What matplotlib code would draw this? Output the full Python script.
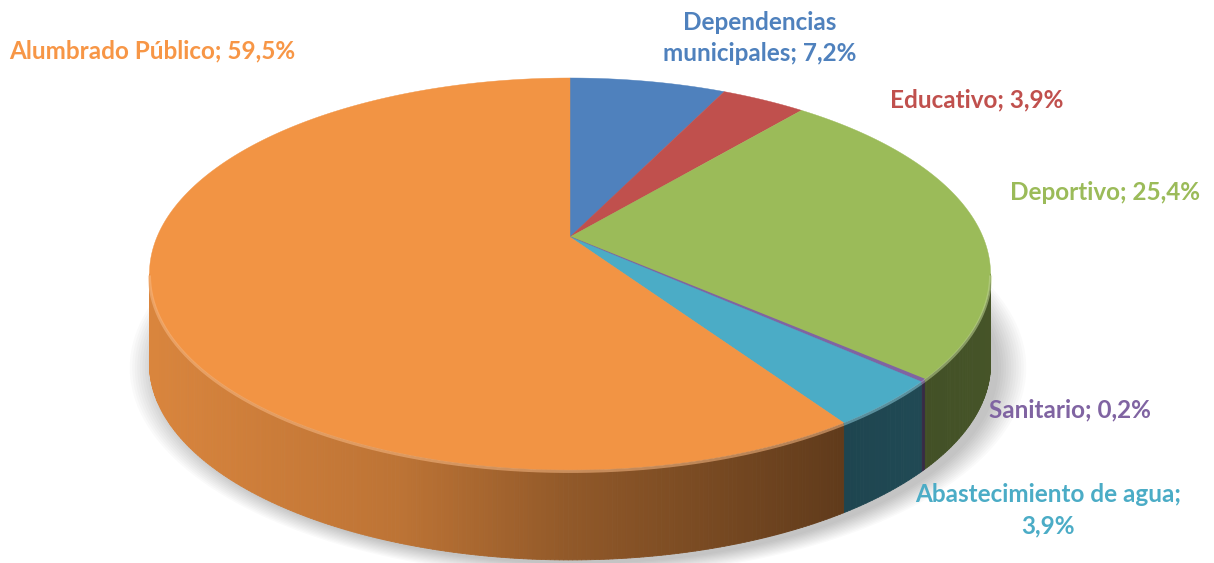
import numpy as np
import matplotlib.pyplot as plt
from matplotlib.collections import PolyCollection
from matplotlib.patches import Polygon
from matplotlib.colors import to_rgb

# Datos del gráfico (porcentaje del consumo por uso)
categories = ['Dependencias municipales', 'Educativo', 'Deportivo',
              'Sanitario', 'Abastecimiento de agua', 'Alumbrado Público']
values = [7.2, 3.9, 25.4, 0.2, 3.9, 59.5]
colors = ['#4F81BD', '#C0504D', '#9BBB59', '#8064A2', '#4BACC6', '#F29444']
label_colors = ['#4F81BD', '#C0504D', '#9BBB59', '#8064A2', '#4BACC6', '#F79646']
label_texts = ['Dependencias\nmunicipales; 7,2%', 'Educativo; 3,9%',
               'Deportivo; 25,4%', 'Sanitario; 0,2%',
               'Abastecimiento de agua;\n3,9%', 'Alumbrado Público; 59,5%']

# posicion de las etiquetas (x, linea base de la ultima linea, alineacion)
label_pos = [(760, 61, 'center'), (890, 107, 'left'), (1010, 200, 'left'),
             (989, 417, 'left'), (1048, 533, 'center'), (9, 58, 'left')]

W, H = 1214, 563
cx, cy = 570, 237          # vertice de la tarta
A, B, k = 413, 189, 0.1886  # proyeccion en perspectiva
depth = 90


def project(t):
    u, v = np.cos(t), np.sin(t)
    d = 1 + k * v
    return cx + A * u / d, cy - B * v / d


def shade(x):
    return np.interp(x, [150, 400, 570, 840, 990], [0.9, 0.78, 0.6, 0.4, 0.45])


fig = plt.figure(figsize=(W / 100, H / 100), dpi=100)
ax = fig.add_axes([0, 0, 1, 1])
ax.set_xlim(0, W)
ax.set_ylim(H, 0)
ax.axis('off')

vals = np.array(values)
cum = np.concatenate([[0], np.cumsum(vals / vals.sum())])
bounds = np.deg2rad(90 - 360 * cum)   # sentido horario desde arriba

# sombra suave
tt = np.linspace(0, 2 * np.pi, 300)
sx, sy = project(tt)
for i in range(12):
    s = 1 + i * 0.006
    px = cx + (sx - cx) * s + 8
    py = cy + 40 + (sy - cy - 40) * s + depth + 4
    ax.add_patch(Polygon(np.column_stack([px, py]), closed=True,
                         facecolor='black', edgecolor='none', alpha=0.018, zorder=1))

# paredes laterales
vis_lo, vis_hi = -np.pi + np.arcsin(k), -np.arcsin(k)
for i in range(len(values)):
    t0, t1 = bounds[i + 1], bounds[i]
    while t1 > vis_hi + 2 * np.pi:
        t0 -= 2 * np.pi
        t1 -= 2 * np.pi
    lo, hi = max(t0, vis_lo), min(t1, vis_hi)
    if lo >= hi:
        continue
    ts = np.linspace(lo, hi, max(3, int(np.degrees(hi - lo) * 2)))
    x, y = project(ts)
    base = np.array(to_rgb(colors[i]))
    quads, cols = [], []
    for j in range(len(ts) - 1):
        quads.append([(x[j], y[j]), (x[j + 1], y[j + 1]),
                      (x[j + 1], y[j + 1] + depth), (x[j], y[j] + depth)])
        f = shade((x[j] + x[j + 1]) / 2)
        cols.append(np.clip(base * f, 0, 1))
    ax.add_collection(PolyCollection(quads, facecolors=cols, edgecolors=cols,
                                     linewidths=0.6, zorder=2))
    # brillo del borde superior
    light = base + (1 - base) * 0.35
    ax.plot(x, y + 1.5, color=light, lw=2.2, alpha=0.55, zorder=4,
            solid_capstyle='butt')

# caras superiores
for i in range(len(values)):
    ts = np.linspace(bounds[i], bounds[i + 1], max(3, int(abs(np.degrees(bounds[i + 1] - bounds[i])) * 2)))
    x, y = project(ts)
    pts = np.column_stack([np.r_[cx, x], np.r_[cy, y]])
    lw = 1.0 if values[i] < 1 else 0.3
    ax.add_patch(Polygon(pts, closed=True, facecolor=colors[i],
                         edgecolor=colors[i], lw=lw, zorder=3))

# etiquetas
for text, (x, y, ha), col in zip(label_texts, label_pos, label_colors):
    lines = text.split('\n')
    for n, line in enumerate(reversed(lines)):
        ax.text(x, y - n * 31.5, line, ha=ha, va='baseline', color=col,
                fontsize=17.5, fontweight='bold', family=['Lato', 'DejaVu Sans'],
                zorder=5)

fig.savefig('out.png', dpi=100)
